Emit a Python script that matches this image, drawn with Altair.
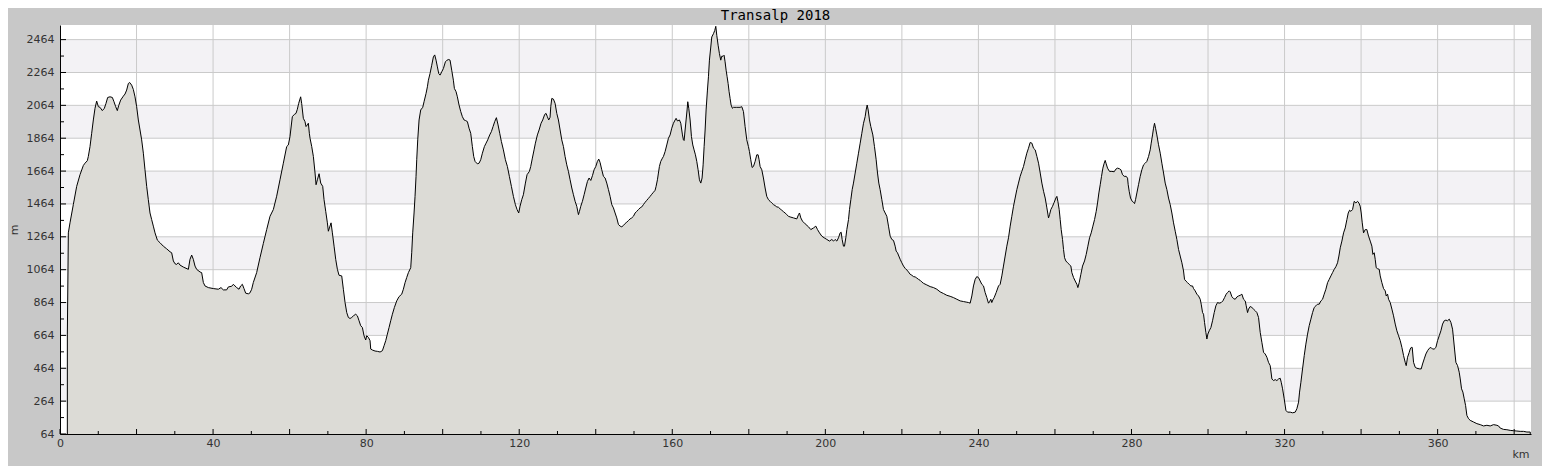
import altair as alt
import pandas as pd

TITLE = "Transalp 2018"
X_TITLE = "km"
Y_TITLE = "m"

# elevation profile: [km, m]
SEG_A = [
    [1.92, 672], [2.18, 1288], [2.61, 1349], [3.48, 1460], [4.36, 1571], [5.23, 1642], [6.10, 1698],
    [6.53, 1712], [7.14, 1727], [7.40, 1753], [7.84, 1813], [8.28, 1894], [8.71, 1975], [9.15, 2046],
    [9.58, 2090], [10.02, 2056], [10.45, 2052], [11.06, 2032], [11.59, 2046], [12.02, 2076], [12.46, 2112],
    [13.07, 2116], [13.68, 2112], [14.11, 2086], [14.55, 2056], [14.98, 2032], [15.33, 2062], [15.85, 2096],
    [16.55, 2120], [16.99, 2133], [17.42, 2157], [17.86, 2197], [18.21, 2203], [18.73, 2187], [19.16, 2161],
    [19.60, 2116], [20.03, 2056], [20.47, 1975], [20.91, 1914], [21.34, 1854], [21.78, 1773], [22.21, 1672],
    [22.65, 1571], [23.08, 1490], [23.52, 1409], [23.95, 1369], [24.39, 1329], [24.83, 1288], [25.44, 1244],
    [26.13, 1228], [27.00, 1207], [27.87, 1191], [28.75, 1173], [29.18, 1167], [29.62, 1117], [30.05, 1100],
    [30.49, 1096], [30.92, 1106], [31.36, 1092], [32.23, 1080], [33.54, 1066], [33.97, 1127], [34.41, 1153],
    [34.84, 1127], [35.28, 1086], [35.71, 1066], [36.59, 1050], [37.02, 1046], [37.46, 986], [37.89, 965],
    [38.76, 955], [40.07, 949], [41.38, 945], [42.07, 955], [42.68, 941], [43.55, 941], [43.99, 959],
    [44.86, 963], [45.30, 975], [45.73, 965], [46.17, 955], [46.78, 945], [47.21, 965], [47.65, 975],
    [48.08, 949], [48.52, 921], [49.22, 917], [49.65, 923], [50.09, 945], [50.52, 986], [51.39, 1046],
    [52.26, 1137], [53.14, 1224], [54.01, 1308], [54.88, 1389], [55.75, 1430], [56.62, 1511], [57.49, 1611],
    [58.36, 1712], [59.23, 1813], [59.67, 1823], [60.10, 1874], [60.71, 1995], [61.24, 2009], [61.67, 2015],
    [62.02, 2040], [62.37, 2076], [62.89, 2116], [63.15, 2076], [63.59, 1985], [64.02, 1965], [64.29, 1935],
    [64.63, 1945], [64.90, 1955], [65.16, 1894],
]
SEG_B = [
    [65.34, 1864], [65.78, 1813], [66.21, 1753], [66.65, 1652], [66.91, 1581], [67.26, 1611], [67.70, 1648],
    [68.13, 1591], [68.65, 1571], [69.00, 1490], [69.44, 1419], [69.87, 1349], [70.13, 1298], [70.40, 1318],
    [70.83, 1349], [71.18, 1288], [71.62, 1207], [72.05, 1127], [72.49, 1066], [72.92, 1030], [73.62, 1026],
    [74.05, 945], [74.49, 864], [74.93, 803], [75.36, 773], [75.80, 767], [76.23, 773], [76.67, 783],
    [77.28, 793], [77.71, 783], [78.15, 753], [78.58, 723], [79.02, 712], [79.45, 662], [79.89, 636],
    [80.15, 662], [80.59, 652], [81.02, 632], [81.20, 581], [81.63, 575], [82.33, 569], [82.94, 567],
    [83.64, 563], [84.25, 571], [84.68, 601], [85.12, 632], [85.55, 672], [85.99, 712], [86.42, 753],
    [86.86, 793], [87.38, 834], [87.99, 874], [88.60, 900], [89.30, 915], [89.73, 945], [90.17, 985],
    [90.60, 1016], [91.04, 1046], [91.65, 1076], [91.91, 1167], [92.17, 1288], [92.52, 1409], [92.78, 1510],
    [93.04, 1632], [93.22, 1733], [93.48, 1854], [93.83, 1975], [94.26, 2036], [94.79, 2052], [95.13, 2086],
    [95.66, 2137], [96.01, 2177], [96.27, 2217], [96.70, 2258], [97.14, 2308], [97.57, 2359], [97.92, 2371],
    [98.27, 2339], [98.62, 2298], [98.97, 2258], [99.32, 2248], [99.75, 2268], [100.19, 2288], [100.71, 2329],
    [101.14, 2339], [101.58, 2343], [101.93, 2339], [102.36, 2278], [102.80, 2217], [103.06, 2167],
    [103.50, 2147], [103.84, 2116], [104.28, 2066], [104.72, 2026], [105.15, 1995], [105.59, 1975],
    [106.02, 1971], [106.46, 1965], [106.89, 1925], [107.33, 1894], [107.76, 1813], [108.11, 1753],
    [108.46, 1723], [109.07, 1708], [109.51, 1712], [109.94, 1733], [110.38, 1773], [110.90, 1813],
    [111.34, 1834], [111.77, 1854], [112.29, 1884], [112.73, 1904], [113.17, 1935], [113.60, 1965],
    [114.04, 1989], [114.47, 1945], [114.91, 1894], [115.34, 1844], [115.87, 1793], [116.39, 1733],
    [116.91, 1692], [117.43, 1632], [117.96, 1571], [118.48, 1510], [119.00, 1460], [119.44, 1430],
    [119.87, 1409], [120.22, 1450], [120.66, 1490], [121.09, 1520], [121.62, 1591], [122.05, 1642],
    [122.66, 1662], [123.01, 1692], [123.44, 1743], [123.88, 1793], [124.23, 1834], [124.75, 1884],
    [125.19, 1914], [125.71, 1955], [126.14, 1975], [126.67, 2009], [127.02, 2015], [127.36, 1995],
    [127.71, 1975], [128.06, 1991],
]
SEG_C = [
    [128.25, 2056], [128.51, 2106], [128.94, 2102], [129.38, 2076], [129.82, 2015], [130.25, 1975],
    [130.69, 1914], [131.12, 1854], [131.56, 1813], [131.99, 1753], [132.43, 1702], [132.86, 1662],
    [133.30, 1611], [133.74, 1561], [134.17, 1520], [134.61, 1480], [135.04, 1450], [135.48, 1399],
    [135.74, 1419], [136.09, 1450], [136.52, 1480], [136.96, 1520], [137.39, 1561], [137.83, 1601],
    [138.26, 1622], [138.70, 1607], [139.14, 1636], [139.57, 1672], [140.01, 1692], [140.44, 1723],
    [140.79, 1737], [141.14, 1716], [141.57, 1672], [142.01, 1632], [142.45, 1622], [142.88, 1591],
    [143.32, 1551], [143.75, 1510], [144.19, 1460], [144.62, 1440], [145.06, 1409], [145.49, 1379],
    [145.93, 1339], [146.37, 1329], [146.80, 1325], [147.24, 1333], [147.67, 1345], [148.11, 1353],
    [148.54, 1363], [148.98, 1373], [149.41, 1379], [149.85, 1389], [150.29, 1409], [150.72, 1419],
    [151.16, 1430], [151.59, 1440], [152.03, 1446], [152.46, 1460], [152.90, 1474], [153.33, 1486],
    [153.77, 1498], [154.21, 1510], [154.64, 1523], [155.08, 1535], [155.51, 1547], [155.77, 1571],
    [156.12, 1611], [156.38, 1652], [156.64, 1692], [156.99, 1723], [157.43, 1743], [157.69, 1753],
    [158.13, 1783], [158.56, 1823], [159.00, 1864], [159.43, 1884], [159.87, 1925], [160.30, 1955],
    [160.74, 1975], [161.00, 1985], [161.35, 1969], [161.87, 1975], [162.22, 1955], [162.66, 1884],
    [162.92, 1854], [163.09, 1850], [163.35, 1914], [163.61, 1975], [163.87, 2036], [164.05, 2086],
    [164.31, 2046], [164.66, 1975], [165.01, 1874], [165.36, 1823], [165.70, 1793], [166.05, 1763],
    [166.40, 1723], [166.75, 1672], [167.10, 1611], [167.45, 1591], [167.79, 1622], [168.06, 1702],
    [168.32, 1813], [168.58, 1914], [168.84, 2036], [169.19, 2157], [169.45, 2238], [169.71, 2339],
    [170.06, 2419], [170.32, 2480], [170.76, 2500], [171.10, 2520], [171.37, 2545], [171.63, 2490],
    [171.98, 2430], [172.32, 2379], [172.67, 2339], [172.93, 2363], [173.28, 2363], [173.54, 2369],
    [173.80, 2329], [174.07, 2278], [174.33, 2238], [174.59, 2197], [174.85, 2147], [175.11, 2106],
    [175.37, 2066], [175.72, 2046], [175.98, 2052], [176.85, 2052], [177.72, 2052], [178.16, 2056],
    [178.60, 2026], [179.03, 1935], [179.47, 1854], [179.90, 1813], [180.16, 1783], [180.51, 1733],
    [180.86, 1686], [181.21, 1692], [181.65, 1723], [182.08, 1763], [182.43, 1763], [182.69, 1733],
    [182.95, 1692], [183.39, 1672], [183.82, 1622], [184.26, 1561], [184.69, 1510], [185.13, 1490],
    [185.57, 1480], [186.00, 1470], [186.44, 1460], [186.87, 1454], [187.31, 1446], [187.74, 1444],
    [188.18, 1434], [188.61, 1426], [189.05, 1417], [189.48, 1409], [189.92, 1399], [190.36, 1389],
    [190.79, 1385],
]
SEG_D = [
    [191.67, 1379], [192.55, 1373], [192.98, 1399], [193.24, 1409], [193.59, 1379], [194.03, 1359],
    [194.72, 1343], [195.59, 1325], [196.20, 1308], [196.90, 1318], [197.51, 1329], [197.95, 1308],
    [198.47, 1288], [199.08, 1268], [199.69, 1258], [200.39, 1248], [201.08, 1238], [201.69, 1248],
    [202.13, 1238], [202.56, 1248], [203.00, 1238], [203.43, 1258], [203.87, 1288], [204.13, 1292],
    [204.39, 1248], [204.74, 1207], [205.00, 1207], [205.35, 1258], [205.61, 1308], [206.05, 1369],
    [206.31, 1430], [206.66, 1490], [207.01, 1551], [207.35, 1591], [207.79, 1652], [208.22, 1712],
    [208.66, 1773], [209.10, 1834], [209.53, 1894], [209.97, 1955], [210.40, 1995], [210.66, 2036],
    [210.93, 2066], [211.19, 2036], [211.53, 1975], [211.88, 1935], [212.41, 1884], [212.84, 1813],
    [213.28, 1733], [213.63, 1652], [213.97, 1591], [214.32, 1551], [214.76, 1490], [215.19, 1430],
    [215.63, 1409], [216.06, 1389], [216.50, 1329], [216.94, 1268], [217.37, 1248], [217.81, 1242],
    [218.24, 1207], [218.50, 1177], [218.85, 1167], [219.20, 1147], [219.55, 1127], [219.98, 1106],
    [220.42, 1086], [220.86, 1072], [221.29, 1062], [221.73, 1050], [222.16, 1036], [222.60, 1030],
    [223.03, 1022], [223.47, 1020], [223.90, 1013], [224.34, 1005], [224.78, 999], [225.21, 989],
    [225.65, 981], [226.52, 971], [227.39, 961], [228.26, 955], [229.13, 945], [230.00, 929],
    [230.87, 919], [231.74, 908], [232.61, 902], [233.49, 894], [234.36, 884], [235.23, 874],
    [236.10, 870], [236.97, 866], [237.41, 864], [237.84, 860], [238.28, 904], [238.71, 965],
    [239.15, 1005], [239.58, 1022], [240.02, 1016], [240.46, 995], [240.89, 975], [241.33, 965],
    [241.76, 925], [242.20, 894], [242.63, 860], [242.89, 868], [243.24, 884], [243.50, 864],
    [243.77, 880], [244.11, 894], [244.64, 925], [245.25, 965], [245.68, 975], [246.12, 1026],
    [246.55, 1086], [246.99, 1147], [247.42, 1207], [247.86, 1258], [248.30, 1329], [248.73, 1389],
    [249.17, 1450], [249.60, 1500], [250.04, 1551], [250.47, 1591], [250.91, 1632], [251.34, 1662],
    [251.78, 1692], [252.21, 1733], [252.65, 1773], [253.08, 1803], [253.52, 1838],
]
SEG_E = [
    [253.97, 1834], [254.40, 1803], [254.84, 1793], [255.28, 1753], [255.71, 1712], [256.15, 1652],
    [256.58, 1591], [257.02, 1541], [257.45, 1500], [257.89, 1440], [258.32, 1379], [258.59, 1399],
    [258.93, 1430], [259.37, 1450], [259.81, 1474], [260.24, 1500], [260.50, 1510], [260.76, 1480],
    [261.11, 1430], [261.37, 1369], [261.63, 1308], [261.98, 1248], [262.24, 1187], [262.51, 1137],
    [262.85, 1117], [263.29, 1106], [263.72, 1096], [264.16, 1086], [264.42, 1046], [264.86, 1016],
    [265.29, 995], [265.73, 975], [265.99, 955], [266.34, 985], [266.77, 1036], [267.21, 1086],
    [267.73, 1117], [268.17, 1157], [268.60, 1207], [269.04, 1258], [269.47, 1288], [269.91, 1329],
    [270.35, 1369], [270.78, 1419], [271.13, 1470], [271.48, 1531], [271.83, 1581], [272.17, 1632],
    [272.52, 1682], [272.87, 1712], [273.13, 1729], [273.39, 1708], [273.74, 1682], [274.26, 1662],
    [274.87, 1662], [275.48, 1660], [275.92, 1676], [276.36, 1682], [276.88, 1678], [277.23, 1672],
    [277.66, 1642], [278.10, 1632], [278.62, 1632], [278.97, 1621], [279.14, 1581], [279.40, 1541],
    [279.75, 1500], [280.19, 1480], [280.54, 1474], [280.80, 1466], [281.06, 1490], [281.41, 1531],
    [281.84, 1581], [282.28, 1632], [282.71, 1672], [283.15, 1702], [283.59, 1712], [284.02, 1723],
    [284.46, 1753], [284.89, 1793], [285.15, 1834], [285.50, 1884], [285.76, 1925], [286.02, 1955],
    [286.29, 1925], [286.63, 1884], [287.07, 1824], [287.51, 1773], [287.94, 1712], [288.38, 1652],
    [288.81, 1591], [289.25, 1551], [289.68, 1500], [290.12, 1460], [290.55, 1409], [290.99, 1349],
    [291.43, 1298], [291.86, 1248], [292.30, 1187], [292.73, 1147], [293.17, 1106], [293.60, 1056],
    [293.86, 1005], [294.21, 995], [294.65, 985], [295.08, 975], [295.52, 965], [295.95, 965],
    [296.22, 949], [296.65, 935], [297.09, 915], [297.52, 904], [297.96, 884], [298.22, 854],
    [298.57, 803], [298.83, 793], [299.09, 743], [299.44, 682], [299.70, 642], [299.96, 672],
    [300.31, 692], [300.75, 712], [301.18, 753], [301.62, 803], [302.05, 844], [302.49, 864],
    [302.92, 860], [303.45, 864], [303.88, 874], [304.32, 894], [304.75, 915], [305.10, 925],
    [305.54, 935], [305.80, 929], [306.23, 900], [306.67, 888], [307.10, 884], [307.54, 898],
    [307.97, 904], [308.41, 908], [308.85, 915], [309.28, 884], [309.72, 874], [309.98, 844],
    [310.33, 803], [310.59, 824], [311.02, 840], [311.46, 834], [311.90, 824], [312.33, 814],
    [312.77, 803], [313.20, 773], [313.64, 682], [314.07, 622], [314.51, 561], [314.94, 551],
    [315.38, 531], [315.81, 500], [316.25, 480],
]
SEG_F = [
    [316.69, 399], [317.12, 389], [317.56, 395], [317.99, 389], [318.43, 399], [318.87, 403],
    [319.13, 379], [319.48, 339], [319.91, 278], [320.35, 208], [320.78, 197], [321.48, 197],
    [322.09, 193], [322.79, 197], [323.22, 218], [323.66, 258], [323.92, 319], [324.27, 379],
    [324.70, 460], [325.14, 541], [325.57, 611], [326.01, 672], [326.44, 723], [326.88, 763],
    [327.32, 803], [327.75, 834], [328.19, 844], [328.62, 854], [329.06, 854], [329.49, 874],
    [329.93, 884], [330.36, 915], [330.80, 945], [331.24, 985], [331.67, 1005], [332.11, 1026],
    [332.54, 1046], [332.98, 1066], [333.41, 1082], [333.85, 1106], [334.20, 1147], [334.55, 1197],
    [334.98, 1238], [335.42, 1288], [335.85, 1318], [336.29, 1369], [336.64, 1409], [336.99, 1426],
    [337.33, 1419], [337.77, 1430], [338.20, 1480], [338.64, 1470], [339.08, 1480], [339.42, 1470],
    [339.77, 1450], [340.03, 1409], [340.30, 1349], [340.64, 1288], [341.08, 1308], [341.51, 1308],
    [341.95, 1268], [342.39, 1238], [342.82, 1207], [343.08, 1157], [343.43, 1167], [343.69, 1127],
    [343.95, 1076], [344.30, 1070], [344.74, 1066], [345.00, 1026], [345.43, 985], [345.87, 949],
    [346.31, 935], [346.57, 904], [346.92, 915], [347.18, 884], [347.61, 864], [348.05, 824],
    [348.48, 783], [348.92, 733], [349.35, 692], [349.79, 662], [350.23, 632], [350.66, 591],
    [351.10, 541], [351.53, 500], [351.79, 480], [352.14, 531], [352.58, 561], [352.84, 581],
    [353.10, 591], [353.36, 591], [353.71, 500], [354.15, 470], [354.58, 464], [355.28, 460],
    [355.71, 460], [356.06, 490], [356.50, 521], [356.93, 551], [357.37, 571], [357.80, 585],
    [358.24, 591], [358.67, 581], [359.11, 581], [359.55, 591], [359.98, 632], [360.42, 662],
    [360.85, 692], [361.29, 733], [361.72, 753], [362.16, 757], [362.60, 753], [363.03, 763],
    [363.47, 743], [363.90, 702], [364.16, 642], [364.42, 581], [364.77, 500], [365.21, 480],
    [365.64, 440], [365.91, 399], [366.25, 339], [366.60, 319], [366.95, 278], [367.30, 238],
    [367.65, 177], [368.08, 157], [368.52, 147], [369.39, 137], [370.26, 127], [371.13, 121],
    [372.00, 113], [372.87, 117], [373.74, 113], [374.62, 121], [375.49, 117], [375.92, 113],
    [376.36, 100], [377.23, 92], [378.10, 90], [378.97, 86], [379.84, 84], [380.71, 82],
    [381.58, 80], [382.45, 80], [383.33, 76], [384.20, 76],
]

Y_TICKS = [64, 264, 464, 664, 864, 1064, 1264, 1464, 1664, 1864, 2064, 2264, 2464]
Y_MINOR = [164, 364, 564, 764, 964, 1164, 1364, 1564, 1764, 1964, 2164, 2364]
X_GRID = [20, 40, 60, 80, 100, 120, 140, 160, 180, 200, 220, 240, 260, 280, 300, 320, 340, 360, 380]
X_MAJOR = [0] + X_GRID
X_MINOR = [10, 30, 50, 70, 90, 110, 130, 150, 170, 190, 210, 230, 250, 270, 290, 310, 330, 350, 370]
X_LABELS = [0, 40, 80, 120, 160, 200, 240, 280, 320, 360]
BAND_LO = [264, 664, 1064, 1464, 1864, 2264]
BAND_HI = [464, 864, 1264, 1664, 2064, 2464]
X_DOMAIN = [0, 384.4]
Y_DOMAIN = [64, 2553]

W, H = 1471, 409
FONT = "DejaVu Sans"
LABEL_COLOR = "#333333"
GRID_COLOR = "#cacaca"

profile = pd.DataFrame(SEG_A + SEG_B + SEG_C + SEG_D + SEG_E + SEG_F, columns=["km", "m"])
bands = pd.DataFrame({"lo": BAND_LO, "hi": BAND_HI})
ytick = pd.DataFrame({"v": Y_TICKS})
yminor = pd.DataFrame({"v": Y_MINOR})
xgrid = pd.DataFrame({"v": X_GRID})
xmajor = pd.DataFrame({"v": X_MAJOR})
xminor = pd.DataFrame({"v": X_MINOR})

xs = alt.Scale(domain=X_DOMAIN, nice=False, zero=False)
ys = alt.Scale(domain=Y_DOMAIN, nice=False, zero=False)

x_axis = alt.Axis(
    values=X_LABELS, format="d", grid=False, ticks=False, domain=True, domainColor="black", domainWidth=1,
    labelPadding=3, labelFontSize=11, labelColor=LABEL_COLOR, labelFont=FONT, labelFlush=False,
    title=X_TITLE, titleX=W - 2, titleY=23, titleAlign="right", titleBaseline="alphabetic",
    titleFontWeight="normal", titleFontSize=11, titleColor=LABEL_COLOR, titleFont=FONT, zindex=2,
)
y_axis = alt.Axis(
    values=Y_TICKS, format="d", grid=False, ticks=False, domain=True, domainColor="black", domainWidth=1,
    labelPadding=6, labelFontSize=11, labelColor=LABEL_COLOR, labelFont=FONT, labelOverlap=False,
    title=Y_TITLE, titleX=-46, titleY=H / 2, titleAngle=270, titleAlign="center", titleBaseline="middle",
    titleFontWeight="normal", titleFontSize=11, titleColor=LABEL_COLOR, titleFont=FONT, zindex=2,
)

band_layer = alt.Chart(bands).mark_rect(color="#f3f2f5").encode(
    x=alt.value(0), x2=alt.value(W),
    y=alt.Y("lo:Q", scale=ys, axis=y_axis), y2="hi:Q",
)
hgrid = alt.Chart(ytick).mark_rule(color=GRID_COLOR, strokeWidth=1).encode(
    y=alt.Y("v:Q", scale=ys, axis=y_axis), x=alt.value(0), x2=alt.value(W),
)
vgrid = alt.Chart(xgrid).mark_rule(color=GRID_COLOR, strokeWidth=1).encode(
    x=alt.X("v:Q", scale=xs, axis=x_axis), y=alt.value(0), y2=alt.value(H),
)
area = alt.Chart(profile).mark_area(
    fill="#dcdbd6", stroke="black", strokeWidth=1, clip=True, interpolate="linear"
).encode(
    x=alt.X("km:Q", scale=xs, axis=x_axis),
    y=alt.Y("m:Q", scale=ys, axis=y_axis),
    y2=alt.value(H),
)
ymaj = alt.Chart(ytick).mark_rule(color="black").encode(
    y=alt.Y("v:Q", scale=ys, axis=y_axis), x=alt.value(0), x2=alt.value(6))
ymin = alt.Chart(yminor).mark_rule(color="black").encode(
    y=alt.Y("v:Q", scale=ys, axis=y_axis), x=alt.value(0), x2=alt.value(4))
xmaj = alt.Chart(xmajor).mark_rule(color="black").encode(
    x=alt.X("v:Q", scale=xs, axis=x_axis), y=alt.value(H - 5), y2=alt.value(H))
xmin = alt.Chart(xminor).mark_rule(color="black").encode(
    x=alt.X("v:Q", scale=xs, axis=x_axis), y=alt.value(H - 3), y2=alt.value(H))

chart = alt.layer(band_layer, hgrid, vgrid, area, ymaj, ymin, xmaj, xmin).properties(
    width=W, height=H,
    autosize=alt.AutoSizeParams(type="none"),
    padding={"left": 52, "top": 17, "right": 11, "bottom": 32},
    background="#c8c8c8",
    title=alt.TitleParams(
        text=TITLE, font="DejaVu Sans Mono", fontSize=14, fontWeight="normal", color="black",
        anchor="middle", frame="group", dx=-20, dy=3, offset=5,
    ),
).configure(font=FONT).configure_view(fill="white", strokeWidth=0)

chart.save("out.html", embed_options={"renderer": "svg", "actions": False})
